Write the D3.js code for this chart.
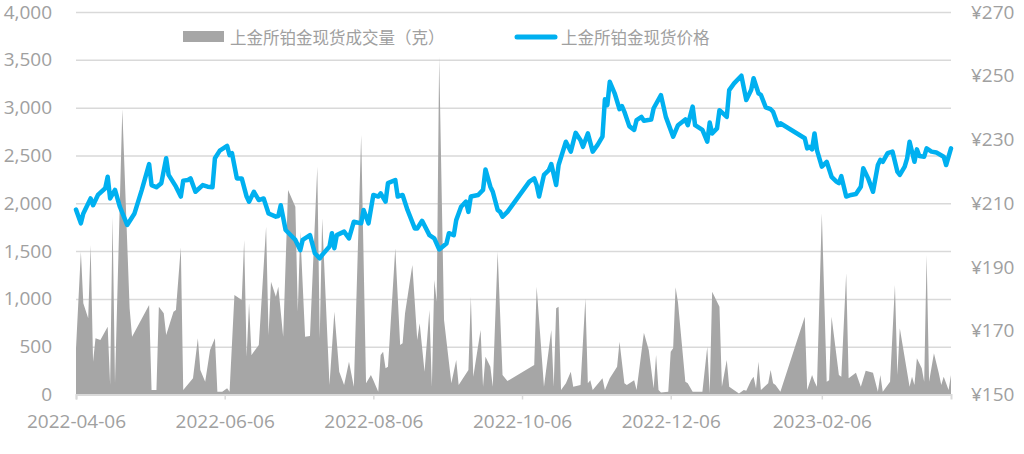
<!DOCTYPE html>
<html>
<head>
<meta charset="utf-8">
<script src="https://cdn.jsdelivr.net/npm/d3@7"></script>
<style>
  body { margin: 0; background: #fff; }
  text { font-family: "Noto Sans CJK SC", "Noto Sans", sans-serif; }
  .tick text { font-family: "Open Sans", "Noto Sans", sans-serif; }
</style>
</head>
<body>
<svg id="chart" width="1024" height="454"></svg>
<script>
// Volume (grams)
const volDates = ["2022-04-06","2022-04-08","2022-04-09","2022-04-11","2022-04-12","2022-04-13","2022-04-14","2022-04-16","2022-04-19","2022-04-20","2022-04-21","2022-04-22","2022-04-25","2022-04-28","2022-04-29",
  "2022-05-06","2022-05-07","2022-05-09","2022-05-10","2022-05-12","2022-05-13","2022-05-16","2022-05-17","2022-05-19","2022-05-20","2022-05-24","2022-05-26","2022-05-27","2022-05-29","2022-05-31",
  "2022-06-02","2022-06-03","2022-06-05","2022-06-07","2022-06-08","2022-06-10","2022-06-13","2022-06-14","2022-06-15","2022-06-16","2022-06-17","2022-06-20","2022-06-23","2022-06-24","2022-06-25","2022-06-27","2022-06-28","2022-06-30",
  "2022-07-02","2022-07-05","2022-07-06","2022-07-07","2022-07-09","2022-07-11","2022-07-14","2022-07-15","2022-07-16","2022-07-19","2022-07-21","2022-07-23","2022-07-25","2022-07-27","2022-07-29",
  "2022-08-01","2022-08-03","2022-08-05","2022-08-06","2022-08-08","2022-08-09","2022-08-10","2022-08-11","2022-08-12","2022-08-15","2022-08-17","2022-08-18","2022-08-19","2022-08-22","2022-08-24","2022-08-25","2022-08-27","2022-08-29","2022-08-30","2022-08-31",
  "2022-09-01","2022-09-02","2022-09-04","2022-09-07","2022-09-09","2022-09-10","2022-09-14","2022-09-15","2022-09-16","2022-09-19","2022-09-20","2022-09-21","2022-09-23","2022-09-24","2022-09-26","2022-09-28","2022-09-30",
  "2022-10-11","2022-10-12","2022-10-15","2022-10-18","2022-10-19","2022-10-20","2022-10-21","2022-10-22","2022-10-24","2022-10-26","2022-10-27","2022-10-30",
  "2022-11-01","2022-11-02","2022-11-03","2022-11-04","2022-11-08","2022-11-09","2022-11-11","2022-11-14","2022-11-15","2022-11-17","2022-11-18","2022-11-21","2022-11-22","2022-11-25","2022-11-27","2022-11-29","2022-11-30",
  "2022-12-01","2022-12-02","2022-12-05","2022-12-06","2022-12-07","2022-12-08","2022-12-09","2022-12-12","2022-12-13","2022-12-15","2022-12-19","2022-12-21","2022-12-22","2022-12-23","2022-12-26","2022-12-27","2022-12-29","2022-12-30",
  "2023-01-03","2023-01-05","2023-01-06","2023-01-08","2023-01-09","2023-01-10","2023-01-11","2023-01-12","2023-01-15","2023-01-16","2023-01-17","2023-01-18","2023-01-20","2023-01-30","2023-01-31",
  "2023-02-02","2023-02-03","2023-02-04","2023-02-06","2023-02-08","2023-02-09","2023-02-10","2023-02-13","2023-02-14","2023-02-16","2023-02-17","2023-02-20","2023-02-22","2023-02-24","2023-02-27",
  "2023-03-01","2023-03-02","2023-03-03","2023-03-06","2023-03-08","2023-03-09","2023-03-10","2023-03-14","2023-03-15","2023-03-16","2023-03-17","2023-03-19","2023-03-20","2023-03-21","2023-03-22","2023-03-24","2023-03-26","2023-03-27","2023-03-28","2023-03-29","2023-03-30","2023-03-31"];
const volValues = [480,1493,954,797,1563,343,588,570,709,99,1859,117,2982,901,605,
  936,47,47,918,849,622,866,884,1539,47,169,588,256,134,465,
  588,29,30,65,30,1040,988,1616,395,954,413,518,1755,622,1180,1023,1128,605,
  2138,1964,866,1703,605,612,2382,588,1842,99,866,238,99,343,82,
  2714,117,204,150,29,413,448,274,291,1529,518,535,849,1354,570,745,238,884,82,1197,
  971,3532,779,117,361,99,256,1023,186,675,82,395,291,82,1493,204,140,
  308,1128,82,675,82,901,918,47,117,238,82,99,
  1006,117,150,47,169,47,169,291,552,117,99,150,47,647,465,65,413,
  47,20,30,448,483,1121,960,134,117,30,30,500,10,1075,918,82,361,82,
  10,47,40,150,186,65,343,47,117,256,117,99,30,814,47,
  204,134,82,1895,134,150,814,204,186,1267,169,228,82,249,228,
  30,204,30,134,1145,204,692,82,186,99,378,274,134,1459,134,431,221,99,186,117,47,204];

// Spot price (yuan/gram)
const priceDates = ["2022-04-06","2022-04-08","2022-04-09","2022-04-12","2022-04-13","2022-04-15","2022-04-18","2022-04-19","2022-04-20","2022-04-22","2022-04-24","2022-04-27","2022-04-30",
  "2022-05-03","2022-05-06","2022-05-07","2022-05-09","2022-05-11","2022-05-13","2022-05-14","2022-05-17","2022-05-19","2022-05-20","2022-05-22","2022-05-23","2022-05-25","2022-05-28","2022-05-30",
  "2022-06-01","2022-06-02","2022-06-04","2022-06-07","2022-06-08","2022-06-09","2022-06-11","2022-06-13","2022-06-15","2022-06-16","2022-06-18","2022-06-20","2022-06-22","2022-06-24","2022-06-27","2022-06-28","2022-06-29",
  "2022-07-01","2022-07-05","2022-07-07","2022-07-08","2022-07-11","2022-07-13","2022-07-15","2022-07-16","2022-07-19","2022-07-20","2022-07-21","2022-07-22","2022-07-25","2022-07-27","2022-07-29",
  "2022-08-01","2022-08-02","2022-08-04","2022-08-06","2022-08-08","2022-08-09","2022-08-11","2022-08-12","2022-08-15","2022-08-16","2022-08-18","2022-08-20","2022-08-23","2022-08-24","2022-08-26","2022-08-29","2022-08-31",
  "2022-09-02","2022-09-05","2022-09-06","2022-09-08","2022-09-09","2022-09-11","2022-09-13","2022-09-14","2022-09-15","2022-09-18","2022-09-20","2022-09-21","2022-09-23","2022-09-24","2022-09-26","2022-09-27","2022-09-28","2022-09-30",
  "2022-10-09","2022-10-11","2022-10-12","2022-10-13","2022-10-15","2022-10-17","2022-10-18","2022-10-20","2022-10-21","2022-10-24","2022-10-26","2022-10-28","2022-10-30","2022-10-31",
  "2022-11-02","2022-11-04","2022-11-06","2022-11-08","2022-11-09","2022-11-10","2022-11-11","2022-11-13","2022-11-15","2022-11-16","2022-11-17","2022-11-19","2022-11-21","2022-11-22","2022-11-24","2022-11-25","2022-11-28","2022-11-29",
  "2022-12-02","2022-12-04","2022-12-07","2022-12-09","2022-12-12","2022-12-13","2022-12-15","2022-12-16","2022-12-19","2022-12-21","2022-12-22","2022-12-23","2022-12-25","2022-12-26","2022-12-29","2022-12-30",
  "2023-01-01","2023-01-04","2023-01-06","2023-01-08","2023-01-09","2023-01-11","2023-01-12","2023-01-14","2023-01-16","2023-01-17","2023-01-19","2023-01-20","2023-01-30","2023-01-31",
  "2023-02-01","2023-02-02","2023-02-03","2023-02-04","2023-02-06","2023-02-08","2023-02-10","2023-02-12","2023-02-13","2023-02-14","2023-02-16","2023-02-18","2023-02-20","2023-02-22","2023-02-23","2023-02-25","2023-02-27",
  "2023-03-01","2023-03-02","2023-03-03","2023-03-05","2023-03-07","2023-03-09","2023-03-10","2023-03-12","2023-03-13","2023-03-14","2023-03-16","2023-03-17","2023-03-18","2023-03-20","2023-03-21","2023-03-23","2023-03-25","2023-03-28","2023-03-29","2023-03-31"];
const priceValues = [208.0,203.7,206.8,211.5,209.4,212.6,214.7,218.3,211.5,214.2,208.9,203.2,206.8,
  214.2,222.3,215.7,215.0,216.3,224.1,218.9,215.2,212.1,217.1,217.3,217.8,213.6,215.7,215.2,
  215.0,224.1,226.5,228.0,225.1,225.7,217.8,217.8,212.1,210.5,213.6,211.0,211.5,206.8,205.8,206.0,209.4,
  201.6,198.5,195.3,198.5,200.0,194.3,192.7,193.8,196.4,200.6,195.9,200.0,201.1,199.0,204.2,
  203.7,207.9,203.7,212.6,212.1,213.1,210.5,216.3,217.3,212.1,212.6,207.9,202.1,202.1,204.5,200.0,199.0,
  195.5,197.4,200.6,200.0,204.7,208.9,210.5,207.3,212.1,212.6,214.2,220.6,215.2,213.6,207.9,207.3,205.8,207.3,
  216.8,217.8,215.7,212.1,218.9,220.4,222.3,215.7,222.0,229.3,226.2,232.1,229.8,227.7,
  231.9,226.2,228.3,230.9,242.6,240.8,248.1,244.5,239.5,240.5,238.7,234.2,233.0,236.1,237.1,235.9,236.3,239.8,
  243.9,237.1,230.9,234.5,236.3,234.5,240.3,234.5,233.0,229.3,235.3,231.9,233.5,239.2,237.1,245.5,
  247.6,250.0,242.4,245.5,249.2,244.5,244.0,240.1,239.5,238.7,234.5,235.1,230.4,227.2,
  227.7,226.9,231.9,226.7,221.5,223.0,218.3,216.8,216.3,218.5,212.1,212.6,212.9,215.2,221.0,217.8,213.6,
  222.0,223.6,223.0,225.7,226.2,219.9,218.9,221.5,224.1,229.3,223.0,226.9,224.8,224.6,227.2,226.2,225.9,224.6,222.0,227.2];

const xTickLabels = ["2022-04-06","2022-06-06","2022-08-06","2022-10-06","2022-12-06","2023-02-06"];
const leftTicks = [0,500,1000,1500,2000,2500,3000,3500,4000];
const rightTicks = [150,170,190,210,230,250,270];
const seriesNames = ["上金所铂金现货成交量（克）","上金所铂金现货价格"];

const parse = d3.timeParse("%Y-%m-%d");
const svg = d3.select("#chart");
const plotL = 76, plotR = 951, plotT = 12, plotB = 394.5;
const textColor = "#a0a0a0";
const gridColor = "#d9d9d9";
const tickFont = "19px";

const x = d3.scaleTime()
    .domain([parse("2022-04-06"), parse("2023-03-31")])
    .range([plotL, plotR]);
const yL = d3.scaleLinear().domain([0, 4000]).range([plotB, plotT]);
const yR = d3.scaleLinear().domain([150, 270]).range([plotB, plotT]);

const vol = volDates.map((d, i) => ({ date: parse(d), v: volValues[i] }));
const price = priceDates.map((d, i) => ({ date: parse(d), p: priceValues[i] }));

// left axis + gridlines
const gL = svg.append("g")
    .attr("transform", `translate(${plotL},0)`)
    .call(d3.axisLeft(yL).tickValues(leftTicks).tickFormat(d3.format(","))
        .tickSize(-(plotR - plotL)).tickPadding(24));
gL.select(".domain").remove();
gL.selectAll(".tick line").attr("stroke", gridColor).attr("stroke-width", 1.5);
gL.selectAll(".tick text").attr("fill", textColor).style("font-size", tickFont);

// right axis
const gR = svg.append("g")
    .attr("transform", `translate(${plotR},0)`)
    .call(d3.axisRight(yR).tickValues(rightTicks).tickFormat(d => "¥" + d)
        .tickSize(0).tickPadding(20));
gR.select(".domain").remove();
gR.selectAll(".tick text").attr("fill", textColor).style("font-size", tickFont);

// volume area
svg.append("path")
    .datum(vol)
    .attr("fill", "#a6a6a6")
    .attr("d", d3.area()
        .x(d => x(d.date))
        .y0(yL(0))
        .y1(d => yL(d.v)));

// x axis
const gX = svg.append("g")
    .attr("transform", `translate(0,${plotB})`)
    .call(d3.axisBottom(x).tickValues(xTickLabels.map(parse))
        .tickFormat(d3.timeFormat("%Y-%m-%d")).tickSize(5).tickPadding(15));
gX.select(".domain").attr("stroke", gridColor).attr("stroke-width", 2);
gX.selectAll(".tick line").attr("stroke", gridColor).attr("stroke-width", 1.5);
gX.selectAll(".tick text").attr("fill", textColor).style("font-size", tickFont);

// price line
svg.append("path")
    .datum(price)
    .attr("fill", "none")
    .attr("stroke", "#00b0f0")
    .attr("stroke-width", 4.5)
    .attr("stroke-linejoin", "round")
    .attr("stroke-linecap", "round")
    .attr("d", d3.line()
        .x(d => x(d.date))
        .y(d => yR(d.p)));

// legend
const lg = svg.append("g");
lg.append("rect").attr("x", 183).attr("y", 31).attr("width", 41).attr("height", 11).attr("fill", "#a6a6a6");
lg.append("text").attr("x", 230).attr("y", 37).attr("dominant-baseline", "central")
    .attr("fill", textColor).style("font-size", "16.5px").text(seriesNames[0]);
lg.append("line").attr("x1", 517).attr("x2", 555).attr("y1", 37).attr("y2", 37)
    .attr("stroke", "#00b0f0").attr("stroke-width", 5).attr("stroke-linecap", "round");
lg.append("text").attr("x", 561).attr("y", 37).attr("dominant-baseline", "central")
    .attr("fill", textColor).style("font-size", "16.5px").text(seriesNames[1]);
</script>
</body>
</html>
